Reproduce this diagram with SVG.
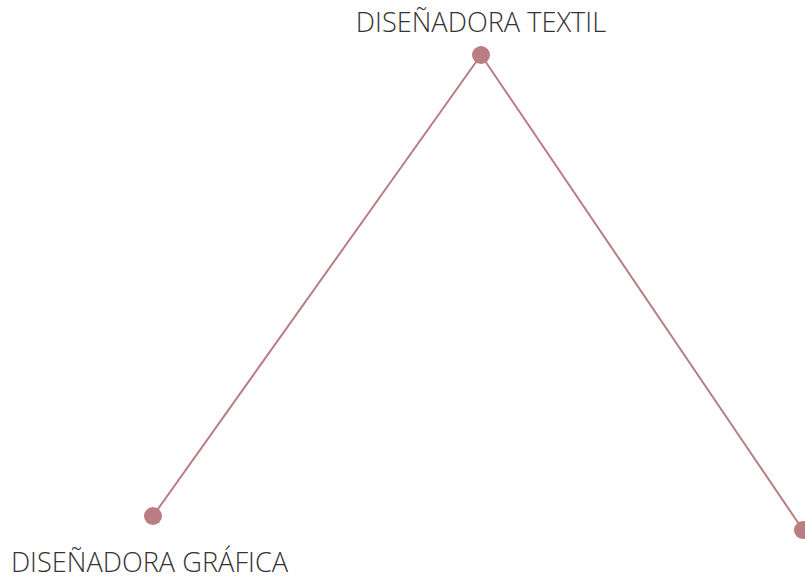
<svg xmlns="http://www.w3.org/2000/svg" width="805" height="580" viewBox="0 0 805 580">
<style>
.lbl{font-family:"Open Sans",sans-serif;font-weight:300;font-size:27.2px;fill:#333;text-anchor:middle}
.node{fill:#b97d83}
.edge{stroke:#b97d83;stroke-width:2;fill:none}
</style>
<rect width="805" height="580" fill="#fff"/>
<g id="connectors">
<line class="edge" x1="481" y1="55" x2="153" y2="516"/>
<line class="edge" x1="481" y1="55" x2="803" y2="530"/>
</g>
<g id="node-textil">
<circle class="node" cx="481" cy="55" r="9"/>
<text class="lbl" x="481" y="32">DISEÑADORA TEXTIL</text>
</g>
<g id="node-grafica">
<circle class="node" cx="153" cy="516" r="9"/>
<text class="lbl" x="149.5" y="572">DISEÑADORA GRÁFICA</text>
</g>
<g id="node-right">
<circle class="node" cx="803" cy="530" r="9"/>
</g>
</svg>
